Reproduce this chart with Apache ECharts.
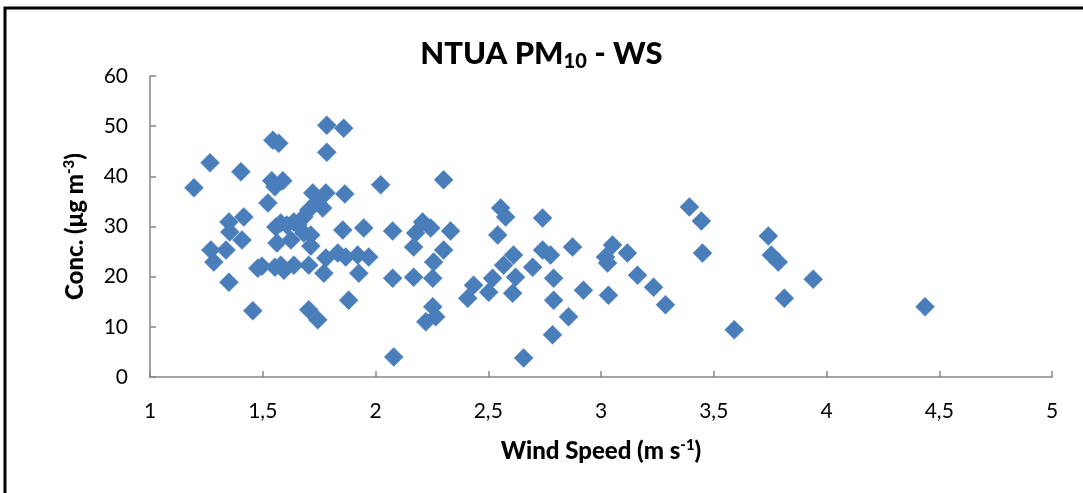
<!DOCTYPE html>
<html>
<head>
<meta charset="utf-8">
<script src="https://cdn.jsdelivr.net/npm/echarts@6/dist/echarts.min.js"></script>
<style>
html,body{margin:0;padding:0;background:#fff;}
#c{width:1083px;height:493px;}
</style>
</head>
<body>
<div id="c"></div>
<script>
const windSpeed = [1.195,1.266,1.270,1.283,1.337,1.350,1.354,1.350,1.403,1.408,1.416,1.478,1.456,1.523,1.545,1.571,1.540,1.589,1.554,1.558,1.563,1.554,1.580,1.638,1.682,1.704,1.740,1.766,1.722,1.780,1.864,1.784,1.859,1.784,1.625,1.682,1.713,1.580,1.638,1.704,1.780,1.771,1.855,1.868,1.833,1.881,1.704,1.744,1.594,1.926,2.023,2.302,1.948,2.076,2.209,2.245,2.178,2.169,2.333,2.302,2.258,1.921,1.970,2.076,2.169,2.254,2.254,2.223,2.267,2.081,2.555,2.577,2.542,2.741,2.612,2.568,2.621,2.697,2.741,2.776,2.874,2.790,2.519,2.435,2.502,2.409,2.608,2.790,2.856,2.922,2.785,2.657,3.051,3.020,3.029,3.117,3.162,3.233,3.286,3.033,3.392,3.445,3.450,3.742,3.755,3.786,3.941,3.813,3.591,4.437,1.607,1.656,1.713,1.496];
const conc = [37.7,42.7,25.3,22.9,25.3,30.9,28.9,18.9,40.9,27.3,31.9,21.7,13.2,34.7,47.2,46.6,39.1,39.1,37.9,29.9,26.7,21.9,30.7,30.9,31.9,33.3,34.9,33.7,36.7,36.7,36.5,50.2,49.6,44.8,27.3,28.7,26.1,22.3,22.3,22.3,23.7,20.7,29.3,23.9,24.7,15.3,13.4,11.4,21.3,20.7,38.3,39.3,29.7,29.1,30.9,29.7,28.7,25.9,29.1,25.3,22.9,24.3,23.9,19.7,19.9,19.7,14.0,11.0,12.0,4.0,33.7,31.9,28.3,31.7,24.3,22.3,19.9,21.9,25.3,24.3,25.9,19.7,19.7,18.3,16.9,15.7,16.7,15.3,12.0,17.3,8.4,3.8,26.3,23.9,22.7,24.7,20.3,17.9,14.4,16.3,33.9,31.1,24.7,28.1,24.3,22.9,19.5,15.7,9.4,14.0,30.3,30.3,28.3,22.1];
const xTicks = [1,1.5,2,2.5,3,3.5,4,4.5,5];
const yTicks = [0,10,20,30,40,50,60];

const points = windSpeed.map((x, i) => [x, conc[i]]);
const FONT = 'Lato, "Open Sans", sans-serif';

const chart = echarts.init(document.getElementById('c'), null, {renderer: 'canvas'});
chart.setOption({
  animation: false,
  backgroundColor: '#fff',
  graphic: [{
    type: 'rect',
    shape: {x: 5, y: 8, width: 1200, height: 600},
    style: {fill: 'none', stroke: '#000', lineWidth: 3},
    silent: true
  }],
  title: {
    left: 'center',
    top: 30,
    text: '{a|NTUA PM}{b|10}{a| - WS}',
    textStyle: {
      rich: {
        a: {fontFamily: FONT, fontWeight: 900, fontSize: 31, color: '#000', lineHeight: 38},
        b: {fontFamily: FONT, fontWeight: 900, fontSize: 20, color: '#000', lineHeight: 38, padding: [16, 0, 0, 0]}
      }
    }
  },
  grid: {left: 150, right: 31, top: 76, bottom: 116, containLabel: false},
  xAxis: {
    type: 'value',
    min: xTicks[0], max: xTicks[xTicks.length - 1], interval: 0.5,
    splitLine: {show: false},
    axisLine: {lineStyle: {color: '#868686', width: 1.5}},
    axisTick: {inside: true, length: 6, lineStyle: {color: '#868686', width: 1.5}},
    axisLabel: {
      margin: 24, fontFamily: FONT, fontSize: 21, color: '#000',
      formatter: v => String(v).replace('.', ',')
    },
    name: '{a|Wind Speed (m s}{s|-1}{a|)}',
    nameLocation: 'middle',
    nameGap: 60,
    nameTextStyle: {
      rich: {
        a: {fontFamily: FONT, fontWeight: 900, fontSize: 24, color: '#000', lineHeight: 28},
        s: {fontFamily: FONT, fontWeight: 900, fontSize: 15, color: '#000', lineHeight: 28, padding: [0, 0, 12, 0]}
      }
    }
  },
  yAxis: {
    type: 'value',
    min: yTicks[0], max: yTicks[yTicks.length - 1], interval: 10,
    splitLine: {show: false},
    axisLine: {show: true, lineStyle: {color: '#868686', width: 1.5}},
    axisTick: {show: true, inside: true, length: 6, lineStyle: {color: '#868686', width: 1.5}},
    axisLabel: {margin: 22, fontFamily: FONT, fontSize: 21, color: '#000'},
    name: '{a|Conc. (μg m}{s|-3}{a|)}',
    nameLocation: 'middle',
    nameGap: 61,
    nameRotate: 90,
    nameTextStyle: {
      rich: {
        a: {fontFamily: FONT, fontWeight: 900, fontSize: 24, color: '#000', lineHeight: 28},
        s: {fontFamily: FONT, fontWeight: 900, fontSize: 15, color: '#000', lineHeight: 28, padding: [0, 0, 12, 0]}
      }
    }
  },
  series: [{
    type: 'scatter',
    data: points,
    symbol: 'diamond',
    symbolSize: 19,
    itemStyle: {color: '#4a7ebb', borderColor: '#4f81bd', borderWidth: 0.5, opacity: 1}
  }]
});
</script>
</body>
</html>
